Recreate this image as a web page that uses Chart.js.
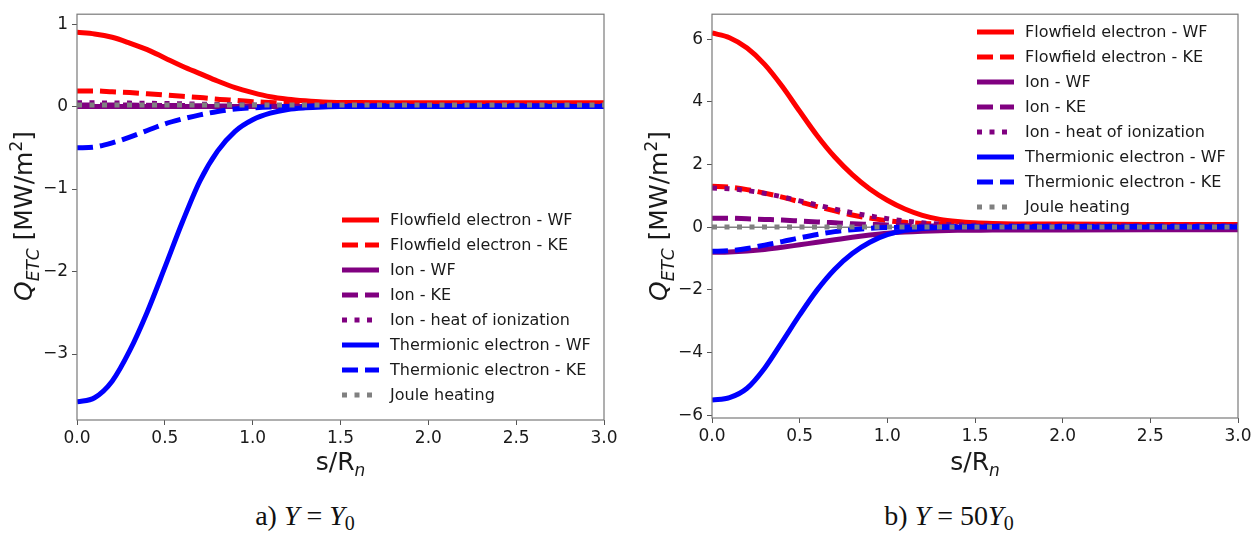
<!DOCTYPE html>
<html>
<head>
<meta charset="utf-8">
<script src="https://cdn.jsdelivr.net/npm/chart.js@4.4.1/dist/chart.umd.min.js"></script>
<style>
body { margin: 0; background: #fff; width: 1258px; height: 534px; overflow: hidden; position: relative; }
.wpr { position: absolute; top: 0; width: 629px; height: 480px; }
.cap { position: absolute; top: 500px; font-family: "Liberation Serif", serif; font-size: 28px; color: #111; text-align: center; }
.cap sub { font-size: 20px; vertical-align: -5px; line-height: 0; }
</style>
</head>
<body>
<div class="wpr" style="left:0"><canvas id="chartA" width="629" height="480"></canvas></div>
<div class="wpr" style="left:629px"><canvas id="chartB" width="629" height="480"></canvas></div>
<div class="cap" style="left:0;width:610px">a) <i>Y</i> = <i>Y</i><sub>0</sub></div>
<div class="cap" style="left:629px;width:640px">b) <i>Y</i> = 50<i>Y</i><sub>0</sub></div>
<script>
const sGrid = [0, 0.1, 0.2, 0.3, 0.4, 0.5, 0.6, 0.7, 0.8, 0.9, 1.0, 1.1, 1.2, 1.3, 1.4, 1.5, 1.6, 1.8, 2.0, 2.5, 3.0]

// a) Y = Y0
const ffWF_a   = [0.90, 0.88, 0.84, 0.77, 0.69, 0.59, 0.49, 0.40, 0.31, 0.23, 0.17, 0.12, 0.09, 0.07, 0.055, 0.05, 0.048, 0.046, 0.045, 0.045, 0.045]
const ffKE_a   = [0.19, 0.19, 0.18, 0.17, 0.155, 0.14, 0.125, 0.11, 0.09, 0.075, 0.06, 0.05, 0.04, 0.035, 0.03, 0.03, 0.03, 0.03, 0.03, 0.03, 0.03]
const ionWF_a  = [0, 0, 0, 0, 0, 0, 0, 0, 0, 0, 0, 0, 0, 0, 0, 0, 0, 0, 0, 0, 0]
const ionKE_a  = [0.02, 0.02, 0.02, 0.018, 0.016, 0.014, 0.012, 0.01, 0.008, 0.006, 0.005, 0.004, 0.004, 0.003, 0.003, 0.003, 0.003, 0.003, 0.003, 0.003, 0.003]
const ionHt_a  = [0.045, 0.045, 0.044, 0.042, 0.04, 0.037, 0.034, 0.03, 0.026, 0.022, 0.018, 0.015, 0.012, 0.01, 0.008, 0.007, 0.006, 0.006, 0.006, 0.006, 0.006]
const thWF_a   = [-3.58, -3.53, -3.33, -2.96, -2.49, -1.95, -1.40, -0.90, -0.54, -0.30, -0.16, -0.08, -0.035, -0.015, -0.005, 0, 0, 0, 0, 0, 0]
const thKE_a   = [-0.50, -0.49, -0.44, -0.37, -0.29, -0.21, -0.15, -0.10, -0.06, -0.03, -0.015, -0.005, 0, 0.005, 0.01, 0.01, 0.01, 0.01, 0.01, 0.01, 0.01]
const joule_a  = [0.02, 0.02, 0.02, 0.02, 0.02, 0.02, 0.02, 0.02, 0.02, 0.02, 0.02, 0.02, 0.02, 0.02, 0.02, 0.02, 0.02, 0.02, 0.02, 0.02, 0.02]

// b) Y = 50 Y0
const ffWF_b   = [6.20, 6.05, 5.72, 5.20, 4.50, 3.70, 2.92, 2.24, 1.68, 1.22, 0.86, 0.58, 0.38, 0.25, 0.18, 0.14, 0.12, 0.10, 0.10, 0.09, 0.09]
const ffKE_b   = [1.31, 1.28, 1.20, 1.09, 0.96, 0.81, 0.66, 0.52, 0.39, 0.29, 0.21, 0.155, 0.12, 0.10, 0.09, 0.08, 0.08, 0.08, 0.08, 0.08, 0.08]
const ionWF_b  = [-0.80, -0.79, -0.76, -0.71, -0.64, -0.56, -0.48, -0.40, -0.32, -0.25, -0.19, -0.15, -0.125, -0.11, -0.10, -0.095, -0.09, -0.09, -0.085, -0.08, -0.08]
const ionKE_b  = [0.29, 0.29, 0.27, 0.25, 0.23, 0.20, 0.17, 0.14, 0.11, 0.09, 0.07, 0.055, 0.045, 0.035, 0.03, 0.03, 0.03, 0.03, 0.03, 0.03, 0.03]
const ionHt_b  = [1.25, 1.23, 1.17, 1.08, 0.97, 0.84, 0.71, 0.58, 0.46, 0.36, 0.27, 0.20, 0.14, 0.10, 0.075, 0.06, 0.05, 0.05, 0.05, 0.05, 0.05]
const thWF_b   = [-5.52, -5.44, -5.14, -4.50, -3.66, -2.80, -2.00, -1.34, -0.84, -0.48, -0.24, -0.10, -0.04, -0.01, 0, 0.01, 0.01, 0.01, 0.01, 0.01, 0.01]
const thKE_b   = [-0.77, -0.75, -0.68, -0.57, -0.46, -0.34, -0.23, -0.14, -0.08, -0.035, -0.01, 0, 0.01, 0.01, 0.02, 0.02, 0.02, 0.02, 0.02, 0.02, 0.02]
const joule_b  = [0.01, 0.01, 0.01, 0.01, 0.01, 0.01, 0.01, 0.01, 0.01, 0.01, 0.01, 0.01, 0.01, 0.01, 0.01, 0.01, 0.01, 0.01, 0.01, 0.01, 0.01]
const zero_b   = [0, 0, 0, 0, 0, 0, 0, 0, 0, 0, 0, 0, 0, 0, 0, 0, 0, 0, 0, 0, 0]

const labels = ['Flowfield electron - WF', 'Flowfield electron - KE', 'Ion - WF', 'Ion - KE',
    'Ion - heat of ionization', 'Thermionic electron - WF', 'Thermionic electron - KE', 'Joule heating']
const xTicks = [0, 0.5, 1.0, 1.5, 2.0, 2.5, 3.0]
const yTicks_a = [-3, -2, -1, 0, 1]
const yTicks_b = [-6, -4, -2, 0, 2, 4, 6]

const LW = 5
const DASH = [16, 7]
const DOT = [5, 7.5]
const styles = [
    ['#ff0000', []], ['#ff0000', DASH],
    ['#800080', []], ['#800080', DASH], ['#800080', DOT],
    ['#0000ff', []], ['#0000ff', DASH],
    ['#808080', DOT]
]

function toPoints(vals) {
    return vals.map((v, i) => ({x: sGrid[i], y: v}))
}

function make_sets(series) {
    return series.map((vals, i) => ({
        label: labels[i],
        data: toPoints(vals),
        borderColor: styles[i][0],
        borderDash: styles[i][1],
        borderWidth: LW,
        borderCapStyle: 'butt',
        pointRadius: 0,
        cubicInterpolationMode: 'monotone',
        order: series.length - i
    }))
}

function minus(v) {
    return v < 0 ? '\u2212' + Math.abs(v) : '' + v
}

function drawParts(ctx, parts) {
    let w = 0
    parts.forEach(p => { ctx.font = p.f; w += ctx.measureText(p.t).width })
    let x = -w / 2
    parts.forEach(p => {
        ctx.font = p.f
        ctx.fillText(p.t, x, p.dy)
        x += ctx.measureText(p.t).width
    })
}

const decor = {
    id: 'decor',
    afterDraw(chart) {
        const o = chart.options.plugins.decor
        const ctx = chart.ctx, a = chart.chartArea
        ctx.save()
        // frame
        ctx.strokeStyle = '#7a7a7a'
        ctx.lineWidth = 1.2
        ctx.strokeRect(a.left, a.top, a.right - a.left, a.bottom - a.top)
        ctx.fillStyle = '#1a1a1a'
        ctx.textBaseline = 'alphabetic'
        // y title
        ctx.save()
        ctx.translate(o.yTitleX, o.yTitleY)
        ctx.rotate(-Math.PI / 2)
        drawParts(ctx, [
            {t: 'Q', f: 'italic 25px "DejaVu Sans"', dy: 0},
            {t: 'ETC', f: 'italic 17px "DejaVu Sans"', dy: 7},
            {t: ' [MW/m', f: '25px "DejaVu Sans"', dy: 0},
            {t: '2', f: '17px "DejaVu Sans"', dy: -10},
            {t: ']', f: '25px "DejaVu Sans"', dy: 0}
        ])
        ctx.restore()
        // x title
        ctx.save()
        ctx.translate((a.left + a.right) / 2, o.xTitleY)
        drawParts(ctx, [
            {t: 's/R', f: '25px "DejaVu Sans"', dy: 0},
            {t: 'n', f: 'italic 17px "DejaVu Sans"', dy: 6}
        ])
        ctx.restore()
        // legend
        ctx.font = '16px "DejaVu Sans"'
        ctx.textBaseline = 'middle'
        labels.forEach((lab, i) => {
            const y = o.legY + i * 25
            ctx.beginPath()
            ctx.strokeStyle = styles[i][0]
            ctx.lineWidth = LW
            ctx.setLineDash(styles[i][1])
            ctx.moveTo(o.legX, y)
            ctx.lineTo(o.legX + 37, y)
            ctx.stroke()
            ctx.fillText(lab, o.legX + 48, y + 1)
        })
        ctx.setLineDash([])
        ctx.restore()
    }
}

function build_chart(id, sets, yTicks, yMin, yMax, cfg) {
    const tickFont = {family: 'DejaVu Sans', size: 17}
    const gridOpt = {display: true, drawOnChartArea: false, drawTicks: true, tickLength: 5, color: '#555', lineWidth: 1}
    return new Chart(document.getElementById(id), {
        type: 'line',
        data: {datasets: sets},
        plugins: [decor],
        options: {
            responsive: false,
            animation: false,
            devicePixelRatio: 1,
            layout: {padding: {top: cfg.top, right: cfg.right, left: 0, bottom: 0}},
            plugins: {
                legend: {display: false},
                tooltip: {enabled: false},
                decor: cfg
            },
            scales: {
                x: {
                    type: 'linear', min: 0, max: 3,
                    grid: gridOpt,
                    border: {display: false},
                    ticks: {font: tickFont, color: '#1a1a1a', padding: 3, maxRotation: 0,
                        callback: v => v.toFixed(1)},
                    afterBuildTicks: s => { s.ticks = xTicks.map(v => ({value: v})) },
                    afterFit: s => { s.height = cfg.xH }
                },
                y: {
                    type: 'linear', min: yMin, max: yMax,
                    grid: gridOpt,
                    border: {display: false},
                    ticks: {font: tickFont, color: '#1a1a1a', padding: 4, callback: v => minus(v)},
                    afterBuildTicks: s => { s.ticks = yTicks.map(v => ({value: v})) },
                    afterFit: s => { s.width = cfg.yW }
                }
            }
        }
    })
}

const setsA = make_sets([ffWF_a, ffKE_a, ionWF_a, ionKE_a, ionHt_a, thWF_a, thKE_a, joule_a])
build_chart('chartA', setsA, yTicks_a, -3.80, 1.12,
    {top: 7, right: 25, xH: 60, yW: 77, yTitleX: 32, yTitleY: 216, xTitleY: 470, legX: 342, legY: 220})

const setsB = make_sets([ffWF_b, ffKE_b, ionWF_b, ionKE_b, ionHt_b, thWF_b, thKE_b, joule_b])
setsB.push({label: '', data: toPoints(zero_b), borderColor: '#808080', borderWidth: 1.5, pointRadius: 0, order: 20})
build_chart('chartB', setsB, yTicks_b, -6.09, 6.80,
    {top: 9, right: 20, xH: 62, yW: 83, yTitleX: 38, yTitleY: 216, xTitleY: 470, legX: 348, legY: 32})
</script>
</body>
</html>
